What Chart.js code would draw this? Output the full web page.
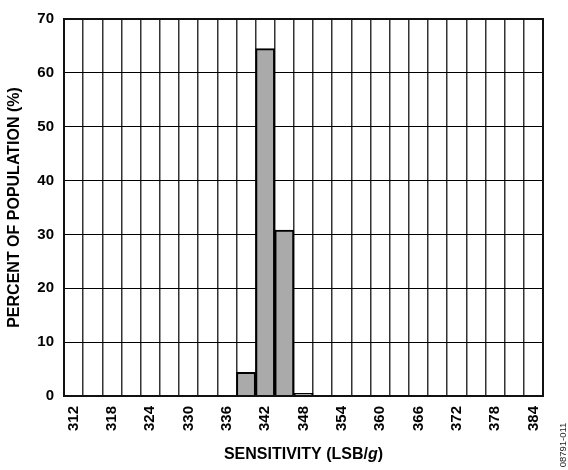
<!DOCTYPE html>
<html>
<head>
<meta charset="utf-8">
<script src="https://cdn.jsdelivr.net/npm/chart.js@4.4.1/dist/chart.umd.min.js"></script>
<style>
  html, body { margin: 0; padding: 0; background: #fff; }
</style>
</head>
<body>
<canvas id="sensChart" width="568" height="470"></canvas>
<script>
// Histogram bins (LSB/g), every 3 LSB/g
const sensitivity = [312, 315, 318, 321, 324, 327, 330, 333, 336, 339, 342, 345, 348,
                     351, 354, 357, 360, 363, 366, 369, 372, 375, 378, 381, 384];
// Percent of population per bin
const percentPopulation = [0, 0, 0, 0, 0, 0, 0, 0, 0, 4.4, 64.5, 30.8, 0.5,
                           0, 0, 0, 0, 0, 0, 0, 0, 0, 0, 0, 0];
// Only every other bin gets a label
const labeledBins = [312, 318, 324, 330, 336, 342, 348, 354, 360, 366, 372, 378, 384];
const yTicks = [0, 10, 20, 30, 40, 50, 60, 70];

const FONT = "'Liberation Sans', Arial, Helvetica, sans-serif";
Chart.defaults.font.family = FONT;
Chart.defaults.color = '#000';

// titles, frame and figure id drawn by hand (x title has an italic g)
const decorPlugin = {
    id: 'decor',
    afterDraw(chart) {
        const ctx = chart.ctx;
        const a = chart.chartArea;
        ctx.save();

        // plot frame
        ctx.strokeStyle = '#111';
        ctx.lineWidth = 2;
        ctx.strokeRect(a.left, a.top, a.right - a.left, a.bottom - a.top);

        ctx.fillStyle = '#000';
        ctx.textBaseline = 'middle';

        // x axis title: SENSITIVITY (LSB/g)
        const parts = [
            { t: 'SENSITIVITY (LSB/', f: 'bold 16px ' + FONT },
            { t: 'g', f: 'italic bold 16px ' + FONT },
            { t: ')', f: 'bold 16px ' + FONT }
        ];
        let total = 0;
        parts.forEach(p => { ctx.font = p.f; p.w = ctx.measureText(p.t).width; total += p.w; });
        let x = (a.left + a.right) / 2 - total / 2;
        ctx.textAlign = 'left';
        parts.forEach(p => { ctx.font = p.f; ctx.fillText(p.t, x, 455); x += p.w; });

        // y axis title
        ctx.save();
        ctx.translate(15, (a.top + a.bottom) / 2);
        ctx.rotate(-Math.PI / 2);
        ctx.textAlign = 'center';
        ctx.font = 'bold 16px ' + FONT;
        ctx.fillText('PERCENT OF POPULATION (%)', 0, 0);
        ctx.restore();

        // figure number at lower right
        ctx.save();
        ctx.translate(563, 445);
        ctx.rotate(-Math.PI / 2);
        ctx.textAlign = 'center';
        ctx.font = '9.5px ' + FONT;
        ctx.fillStyle = '#222';
        ctx.fillText('08791-011', 0, 0);
        ctx.restore();

        ctx.restore();
    }
};

const ctx = document.getElementById('sensChart').getContext('2d');
new Chart(ctx, {
    type: 'bar',
    data: {
        labels: sensitivity,
        datasets: [{
            data: percentPopulation,
            backgroundColor: '#aaaaaa',
            borderColor: '#000',
            borderWidth: 2,
            categoryPercentage: 1.0,
            barPercentage: 1.0
        }]
    },
    options: {
        responsive: false,
        animation: false,
        layout: { padding: { left: 0, right: 25, top: 15, bottom: 0 } },
        plugins: {
            legend: { display: false },
            tooltip: { enabled: false }
        },
        scales: {
            x: {
                grid: { color: '#333', lineWidth: 1.5, drawTicks: false },
                border: { display: false },
                ticks: {
                    autoSkip: false,
                    minRotation: 90,
                    maxRotation: 90,
                    padding: 10,
                    font: { size: 15, weight: 'bold' },
                    callback: function(value, index) {
                        const v = sensitivity[index];
                        return labeledBins.includes(v) ? String(v) : '';
                    }
                },
                afterFit(scale) { scale.height = 74; }
            },
            y: {
                min: 0,
                max: 70,
                grid: { color: '#000', lineWidth: 1, drawTicks: false },
                border: { display: false },
                ticks: {
                    stepSize: 10,
                    padding: 10,
                    font: { size: 15, weight: 'bold' },
                    callback: function(value) {
                        return yTicks.includes(value) ? value : '';
                    }
                },
                afterFit(scale) { scale.width = 64; }
            }
        }
    },
    plugins: [decorPlugin]
});
</script>
</body>
</html>
